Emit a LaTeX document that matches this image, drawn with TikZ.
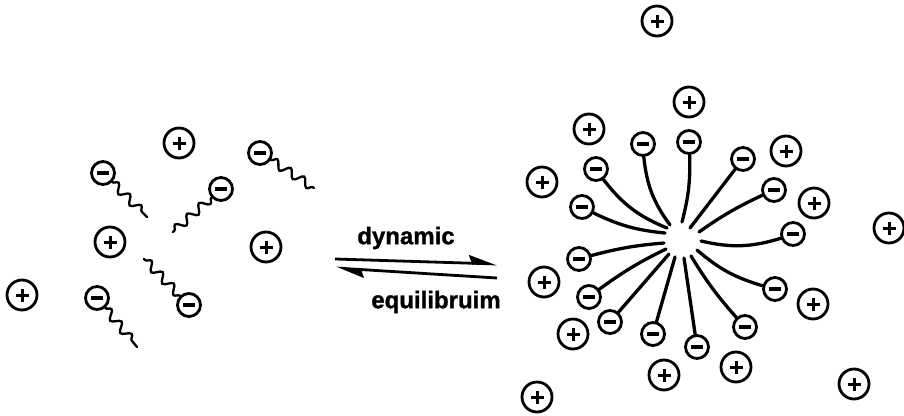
\documentclass[tikz,border=0pt]{standalone}
\usepackage{fontspec}
\setmainfont{Liberation Sans}
\newfontface\heavyfont{Liberation Sans Bold}[FakeBold=1.2]
\usetikzlibrary{arrows.meta,decorations.pathmorphing}
\begin{document}
\begin{tikzpicture}[x=1pt,y=-1pt,
  ion/.style={circle, draw, line width=2.8pt, inner sep=0pt},
  cation/.style={ion, minimum size=30pt, path picture={
     \draw[line width=3pt] ([xshift=-6.5pt]path picture bounding box.center) -- ([xshift=6.5pt]path picture bounding box.center);
     \draw[line width=3pt] ([yshift=-6.5pt]path picture bounding box.center) -- ([yshift=6.5pt]path picture bounding box.center);}},
  anion/.style={ion, minimum size=23pt, path picture={
     \draw[line width=3.6pt] ([xshift=-6pt]path picture bounding box.center) -- ([xshift=6pt]path picture bounding box.center);}},
  wavy/.style={line width=2.3pt, line cap=round, decorate,
     decoration={snake, segment length=16pt, amplitude=4.2pt, post length=1pt}},
  tail/.style={line width=3.3pt, line cap=round},
  rxn/.style={line width=2.8pt},
  rxntext/.style={font=\fontsize{24}{28}\heavyfont, inner sep=0pt}
]
\useasboundingbox (0,0) rectangle (904,415);

% ---- free surfactant molecules and counter-ions ----
\node[cation] (p1) at (22,295) {};
\node[cation] (p2) at (110,242) {};
\node[cation] (p3) at (179,143) {};
\node[cation] (p4) at (266,247) {};

\node[anion] (a1) at (103,173) {};
\node[anion] (a2) at (260,153) {};
\node[anion] (a3) at (221,189) {};
\node[anion] (a4) at (189,305) {};
\node[anion] (a5) at (97,298) {};

\coordinate (e1) at (147,217);
\coordinate (e2) at (314,188);
\coordinate (e3) at (173,232);
\coordinate (e4) at (144,259);
\coordinate (e5) at (137,347);

\draw[wavy] (a1) -- (e1);
\draw[wavy] (a2) -- (e2);
\draw[wavy] (a3) -- (e3);
\draw[wavy] (a4) -- (e4);
\draw[wavy] (a5) -- (e5);

% ---- equilibrium arrows ----
\coordinate (f1) at (335,259);
\coordinate (f2) at (497,264);
\coordinate (b1) at (497,278);
\coordinate (b2) at (336,268);
\draw[rxn, -{Stealth[harpoon, length=24pt, width=16pt, inset=3pt]}] (f1) -- (f2);
\draw[rxn, -{Stealth[harpoon, length=24pt, width=16pt, inset=3pt]}] (b1) -- (b2);
\node[rxntext] (t1) at (406,238) {dynamic};
\node[rxntext] (t2) at (436,302) {equilibruim};

% ---- micelle: head groups ----
\node[anion] (m1) at (643,144) {};
\node[anion] (m2) at (689,142) {};
\node[anion] (m3) at (743,159) {};
\node[anion] (m4) at (774,190) {};
\node[anion] (m5) at (793,234) {};
\node[anion] (m6) at (775,289) {};
\node[anion] (m7) at (745,327) {};
\node[anion] (m8) at (697,347) {};
\node[anion] (m9) at (653,334) {};
\node[anion] (m10) at (610,322) {};
\node[anion] (m11) at (589,297) {};
\node[anion] (m12) at (579,259) {};
\node[anion] (m13) at (582,207) {};
\node[anion] (m14) at (596,169) {};

% inner ends of the hydrocarbon tails
\coordinate (i1) at (670,225);
\coordinate (i2) at (682,222);
\coordinate (i3) at (690,228);
\coordinate (i4) at (699,232);
\coordinate (i5) at (701,241);
\coordinate (i6) at (697,250);
\coordinate (i7) at (691,256);
\coordinate (i8) at (684,258);
\coordinate (i9) at (675,257);
\coordinate (i10) at (669,254);
\coordinate (i11) at (666,249);
\coordinate (i12) at (664,243);
\coordinate (i13) at (665,233);
\coordinate (i14) at (667,228);

\draw[tail] (i1) to[bend left=15] (m1);
\draw[tail] (i2) to[bend right=8] (m2);
\draw[tail] (i3) -- (m3);
\draw[tail] (i4) to[bend left=5] (m4);
\draw[tail] (i5) to[bend right=15] (m5);
\draw[tail] (i6) to[bend right=12] (m6);
\draw[tail] (i7) to[bend right=5] (m7);
\draw[tail] (i8) -- (m8);
\draw[tail] (i9) -- (m9);
\draw[tail] (i10) -- (m10);
\draw[tail] (i11) to[bend right=5] (m11);
\draw[tail] (i12) to[bend right=5] (m12);
\draw[tail] (i13) to[bend left=10] (m13);
\draw[tail] (i14) to[bend left=15] (m14);

% ---- counter-ions around the micelle ----
\node[cation] (q1) at (657,21) {};
\node[cation] (q2) at (689,102) {};
\node[cation] (q3) at (589,129) {};
\node[cation] (q4) at (542,182) {};
\node[cation] (q5) at (786,151) {};
\node[cation] (q6) at (814,203) {};
\node[cation] (q7) at (889,228) {};
\node[cation] (q8) at (544,282) {};
\node[cation] (q9) at (573,334) {};
\node[cation] (q10) at (664,375) {};
\node[cation] (q11) at (736,367) {};
\node[cation] (q12) at (813,304) {};
\node[cation] (q13) at (854,384) {};
\node[cation] (q14) at (537,397) {};
\end{tikzpicture}
\end{document}
